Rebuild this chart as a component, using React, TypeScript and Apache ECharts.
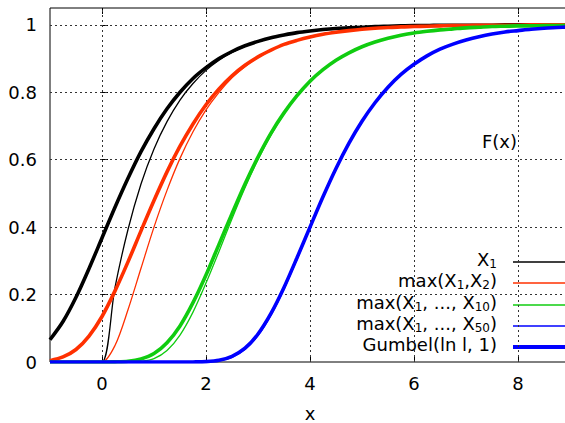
import React, { useEffect, useRef } from 'react';
import * as echarts from 'echarts';

// x positions of the sampled curves
const X_VALUES = [
  -1, -0.75, -0.5, -0.25, 0, 0.25, 0.5, 0.75, 1, 1.25, 1.5, 1.75, 2, 2.25, 2.5, 2.75, 3, 3.25, 3.5, 3.75,
  4, 4.25, 4.5, 4.75, 5, 5.25, 5.5, 5.75, 6, 6.25, 6.5, 6.75, 7, 7.25, 7.5, 7.75, 8, 8.25, 8.5, 8.75, 9,
];

// thin curves: max of n samples
const MAX_1 = [
  0, 0, 0, 0, 0,
  0.221, 0.393, 0.528, 0.632,
  0.713, 0.777, 0.826, 0.865,
  0.895, 0.918, 0.936, 0.95,
  0.961, 0.97, 0.976, 0.982,
  0.986, 0.989, 0.991, 0.993,
  0.995, 0.996, 0.997, 0.998,
  0.998, 0.999, 0.999, 0.999,
  0.999, 0.999, 1, 1,
  1, 1, 1, 1,
];
const MAX_2 = [
  0, 0, 0, 0, 0,
  0.049, 0.155, 0.278, 0.4,
  0.509, 0.604, 0.683, 0.748,
  0.8, 0.843, 0.876, 0.903,
  0.924, 0.941, 0.954, 0.964,
  0.972, 0.978, 0.983, 0.987,
  0.99, 0.992, 0.994, 0.995,
  0.996, 0.997, 0.998, 0.998,
  0.999, 0.999, 0.999, 0.999,
  1, 1, 1, 1,
];
const MAX_10 = [
  0, 0, 0, 0, 0,
  0, 0.0001, 0.002, 0.01,
  0.034, 0.08, 0.148, 0.234,
  0.328, 0.425, 0.517, 0.6,
  0.673, 0.736, 0.788, 0.831,
  0.866, 0.894, 0.917, 0.935,
  0.949, 0.96, 0.969, 0.976,
  0.981, 0.985, 0.988, 0.991,
  0.993, 0.995, 0.996, 0.997,
  0.997, 0.998, 0.998, 0.999,
];
const MAX_50 = [
  0, 0, 0, 0, 0,
  0, 0, 0, 0,
  0, 0, 0.0001, 0.0007,
  0.004, 0.014, 0.037, 0.078,
  0.139, 0.216, 0.304, 0.397,
  0.488, 0.572, 0.648, 0.713,
  0.769, 0.815, 0.853, 0.883,
  0.908, 0.928, 0.943, 0.955,
  0.965, 0.973, 0.979, 0.983,
  0.987, 0.99, 0.992, 0.994,
];

// thick curves: Gumbel(ln n, 1)
const GUMBEL_1 = [
  0.066, 0.12, 0.192, 0.277, 0.368,
  0.459, 0.545, 0.624, 0.692,
  0.751, 0.8, 0.841, 0.873,
  0.9, 0.921, 0.938, 0.951,
  0.962, 0.97, 0.977, 0.982,
  0.986, 0.989, 0.991, 0.993,
  0.995, 0.996, 0.997, 0.998,
  0.998, 0.999, 0.999, 0.999,
  0.999, 0.999, 1, 1,
  1, 1, 1, 1,
];
const GUMBEL_2 = [
  0.004, 0.015, 0.037, 0.077, 0.135,
  0.211, 0.297, 0.389, 0.479,
  0.564, 0.64, 0.706, 0.763,
  0.81, 0.849, 0.88, 0.905,
  0.925, 0.942, 0.954, 0.964,
  0.972, 0.978, 0.983, 0.987,
  0.99, 0.992, 0.994, 0.995,
  0.996, 0.997, 0.998, 0.998,
  0.999, 0.999, 0.999, 0.999,
  1, 1, 1, 1,
];
const GUMBEL_10 = [
  0, 0, 0, 0, 0,
  0.0004, 0.002, 0.009, 0.025,
  0.057, 0.107, 0.176, 0.258,
  0.349, 0.44, 0.528, 0.608,
  0.679, 0.739, 0.79, 0.833,
  0.867, 0.895, 0.917, 0.935,
  0.949, 0.96, 0.969, 0.976,
  0.981, 0.985, 0.988, 0.991,
  0.993, 0.995, 0.996, 0.997,
  0.997, 0.998, 0.998, 0.999,
];
const GUMBEL_50 = [
  0, 0, 0, 0, 0,
  0, 0, 0, 0,
  0, 0, 0.0002, 0.001,
  0.005, 0.017, 0.041, 0.083,
  0.144, 0.221, 0.309, 0.4,
  0.49, 0.574, 0.649, 0.714,
  0.769, 0.815, 0.853, 0.883,
  0.908, 0.928, 0.943, 0.955,
  0.965, 0.973, 0.979, 0.983,
  0.987, 0.99, 0.992, 0.994,
];

const X_TICKS = [0, 2, 4, 6, 8];
const Y_TICKS = [0, 0.2, 0.4, 0.6, 0.8, 1];

const LEGEND_LABELS = [
  'X{s|1}',
  'max(X{s|1},X{s|2})',
  'max(X{s|1}, ..., X{s|10})',
  'max(X{s|1}, ..., X{s|50})',
  'Gumbel(ln l, 1)',
];
const SERIES_NAMES = ['X1', 'max(X1,X2)', 'max(X1, ..., X10)', 'max(X1, ..., X50)'];

const BLACK = '#000000';
const RED = '#ff3000';
const GREEN = '#10cc10';
const BLUE = '#0000ff';
const FONT = 'DejaVu Sans';

const zip = (ys: number[]) => X_VALUES.map((x, i) => [x, ys[i]]);

export default function App() {
  const ref = useRef<HTMLDivElement>(null);

  useEffect(() => {
    if (!ref.current) return;
    const chart = echarts.init(ref.current, null, { renderer: 'svg' });

    const thin = [
      { name: SERIES_NAMES[0], data: MAX_1, color: BLACK },
      { name: SERIES_NAMES[1], data: MAX_2, color: RED },
      { name: SERIES_NAMES[2], data: MAX_10, color: GREEN },
      { name: SERIES_NAMES[3], data: MAX_50, color: BLUE },
    ];
    const thick = [
      { name: 'Gumbel(ln 1, 1)', data: GUMBEL_1, color: BLACK },
      { name: 'Gumbel(ln 2, 1)', data: GUMBEL_2, color: RED },
      { name: 'Gumbel(ln 10, 1)', data: GUMBEL_10, color: GREEN },
      { name: 'Gumbel(ln 50, 1)', data: GUMBEL_50, color: BLUE },
    ];

    const mkSeries = (s: any, width: number, z: number) => ({
      type: 'line',
      name: s.name,
      data: zip(s.data),
      showSymbol: false,
      symbol: 'none',
      smooth: 0.3,
      silent: true,
      z,
      lineStyle: { color: s.color, width },
      itemStyle: { color: s.color },
    });

    const series: any[] = [
      {
        type: 'line',
        name: 'grid',
        data: zip(MAX_1).slice(0, 1),
        showSymbol: false,
        symbol: 'none',
        lineStyle: { width: 0, opacity: 0 },
        silent: true,
        z: 1,
        markLine: {
          z: 1,
          silent: true,
          animation: false,
          symbol: ['none', 'none'],
          label: { show: false },
          lineStyle: { type: [2, 3], color: '#333', width: 1 },
          data: [
            ...X_TICKS.map((v) => ({ xAxis: v })),
            ...Y_TICKS.filter((v) => v > 0).map((v) => ({ yAxis: v })),
          ],
        },
      },
      ...thin.map((s) => mkSeries(s, 1.3, 3)),
      ...thick.map((s) => mkSeries(s, 3.6, 4)),
    ];

    const legendColors = [BLACK, RED, GREEN, BLUE, BLUE];
    const legendWidths = [1.3, 1.3, 1.3, 1.3, 4];
    const legendY = [262, 283, 305, 326, 347];

    const graphic: any[] = [];
    LEGEND_LABELS.forEach((t, i) => {
      graphic.push({
        type: 'text',
        x: 497,
        y: legendY[i] - 3,
        silent: true,
        style: {
          text: t,
          fontFamily: FONT,
          fontSize: 18,
          fill: '#000',
          align: 'right',
          verticalAlign: 'middle',
          textAlign: 'right',
          textVerticalAlign: 'middle',
          rich: {
            s: { fontFamily: FONT, fontSize: 12, padding: [10, 0, 0, 0], fill: '#000' },
          },
        },
      });
      graphic.push({
        type: 'line',
        silent: true,
        shape: { x1: 513, y1: legendY[i], x2: 575, y2: legendY[i] },
        style: { stroke: legendColors[i], lineWidth: legendWidths[i] },
      });
    });
    graphic.push({
      type: 'text',
      x: 517,
      y: 141,
      silent: true,
      style: {
        text: 'F(x)',
        fontFamily: FONT,
        fontSize: 18,
        fill: '#000',
        align: 'right',
        verticalAlign: 'middle',
        textAlign: 'right',
        textVerticalAlign: 'middle',
      },
    });

    const option: any = {
      animation: false,
      backgroundColor: '#ffffff',
      grid: {
        left: 50,
        top: 8,
        width: 520,
        height: 354,
        show: true,
        borderColor: '#000',
        borderWidth: 1,
        backgroundColor: 'transparent',
        containLabel: false,
        outerBoundsMode: 'none',
      },
      xAxis: [
        {
          type: 'value',
          min: -1,
          max: 9,
          position: 'bottom',
          name: 'x',
          nameLocation: 'middle',
          nameGap: 45,
          nameTextStyle: { fontFamily: FONT, fontSize: 18, color: '#000', lineHeight: 12 },
          axisLine: { show: false },
          axisTick: { show: true, inside: true, length: 6, customValues: X_TICKS, lineStyle: { color: '#000' } },
          axisLabel: { customValues: X_TICKS, fontFamily: FONT, fontSize: 18, color: '#000', margin: 12 },
          splitLine: { show: false },
        },
        {
          type: 'value',
          min: -1,
          max: 9,
          position: 'top',
          axisLine: { show: false },
          axisTick: { show: true, inside: true, length: 6, customValues: X_TICKS, lineStyle: { color: '#000' } },
          axisLabel: { show: false },
          splitLine: { show: false },
        },
      ],
      yAxis: {
        type: 'value',
        min: 0,
        max: 1.05,
        axisLine: { show: false },
        axisTick: { show: true, inside: true, length: 6, customValues: Y_TICKS, lineStyle: { color: '#000' } },
        axisLabel: { customValues: Y_TICKS, fontFamily: FONT, fontSize: 18, color: '#000', margin: 13 },
        splitLine: { show: false },
      },
      series,
      graphic,
    };

    chart.setOption(option);
    return () => chart.dispose();
  }, []);

  return (
    <div
      ref={ref}
      style={{ position: 'absolute', left: 0, top: 0, width: 565, height: 423 }}
    />
  );
}
